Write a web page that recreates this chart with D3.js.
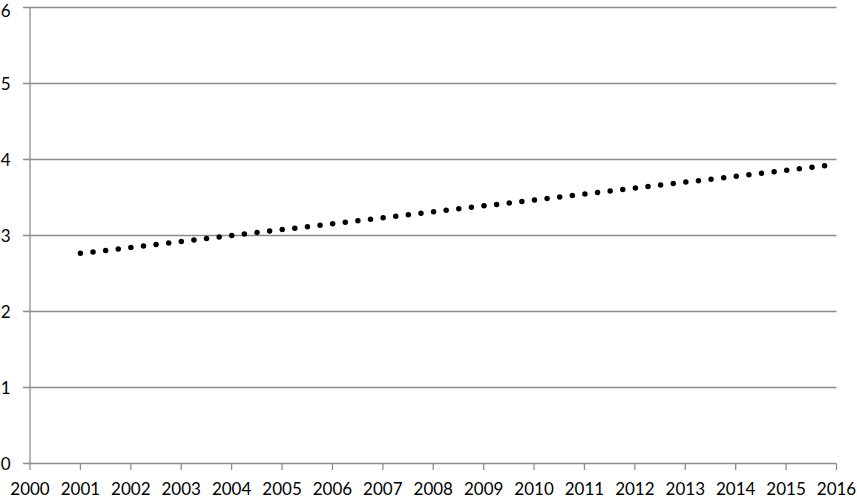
<!DOCTYPE html>
<html><head><meta charset="utf-8">
<script src="https://cdn.jsdelivr.net/npm/d3@7"></script>
<style>
html,body{margin:0;padding:0;background:#fff;}
svg{display:block;}
text{font-family:Lato, "Open Sans", sans-serif;font-size:17px;fill:#000;}
</style></head>
<body>
<svg id="chart" width="857" height="498"></svg>
<script>
// Data
const xTicks = d3.range(2000, 2017);          // 2000 .. 2016
const yTicks = [0, 1, 2, 3, 4, 5, 6];
const trendYears = [2001, 2015.8];
const trendValues = [2.765, 3.92];

const svg = d3.select("#chart");
const x = d3.scaleLinear().domain([2000, 2016]).range([30, 836.5]);
const y = d3.scaleLinear().domain([0, 6]).range([463.5, 7.5]);

// gridlines
svg.append("g").selectAll("line").data(yTicks).join("line")
  .attr("x1", 23).attr("x2", 836.5)
  .attr("y1", d => y(d)).attr("y2", d => y(d))
  .attr("stroke", "#8c8c8c").attr("stroke-width", 1.3);

// y axis line
svg.append("line").attr("x1", 30).attr("x2", 30)
  .attr("y1", y(6)).attr("y2", y(0))
  .attr("stroke", "#8c8c8c").attr("stroke-width", 1.3);

// x ticks
svg.append("g").selectAll("line").data(xTicks).join("line")
  .attr("x1", d => x(d)).attr("x2", d => x(d))
  .attr("y1", y(0)).attr("y2", y(0) + 6.5)
  .attr("stroke", "#8c8c8c").attr("stroke-width", 1.3);

// y labels
svg.append("g").selectAll("text").data(yTicks).join("text")
  .attr("x", 10.5).attr("y", d => Math.max(y(d), 10))
  .attr("text-anchor", "end").attr("dominant-baseline", "central")
  .text(d => d);

// x labels
svg.append("g").selectAll("text").data(xTicks).join("text")
  .attr("x", d => x(d)).attr("y", 495)
  .attr("text-anchor", "middle")
  .text(d => d);

// dotted trendline
const pts = trendYears.map((t, i) => [x(t), y(trendValues[i])]);
svg.append("path")
  .attr("d", d3.line()(pts))
  .attr("fill", "none").attr("stroke", "#000")
  .attr("stroke-width", 5.5).attr("stroke-linecap", "round")
  .attr("stroke-dasharray", "0 12.7");
</script>
</body></html>
